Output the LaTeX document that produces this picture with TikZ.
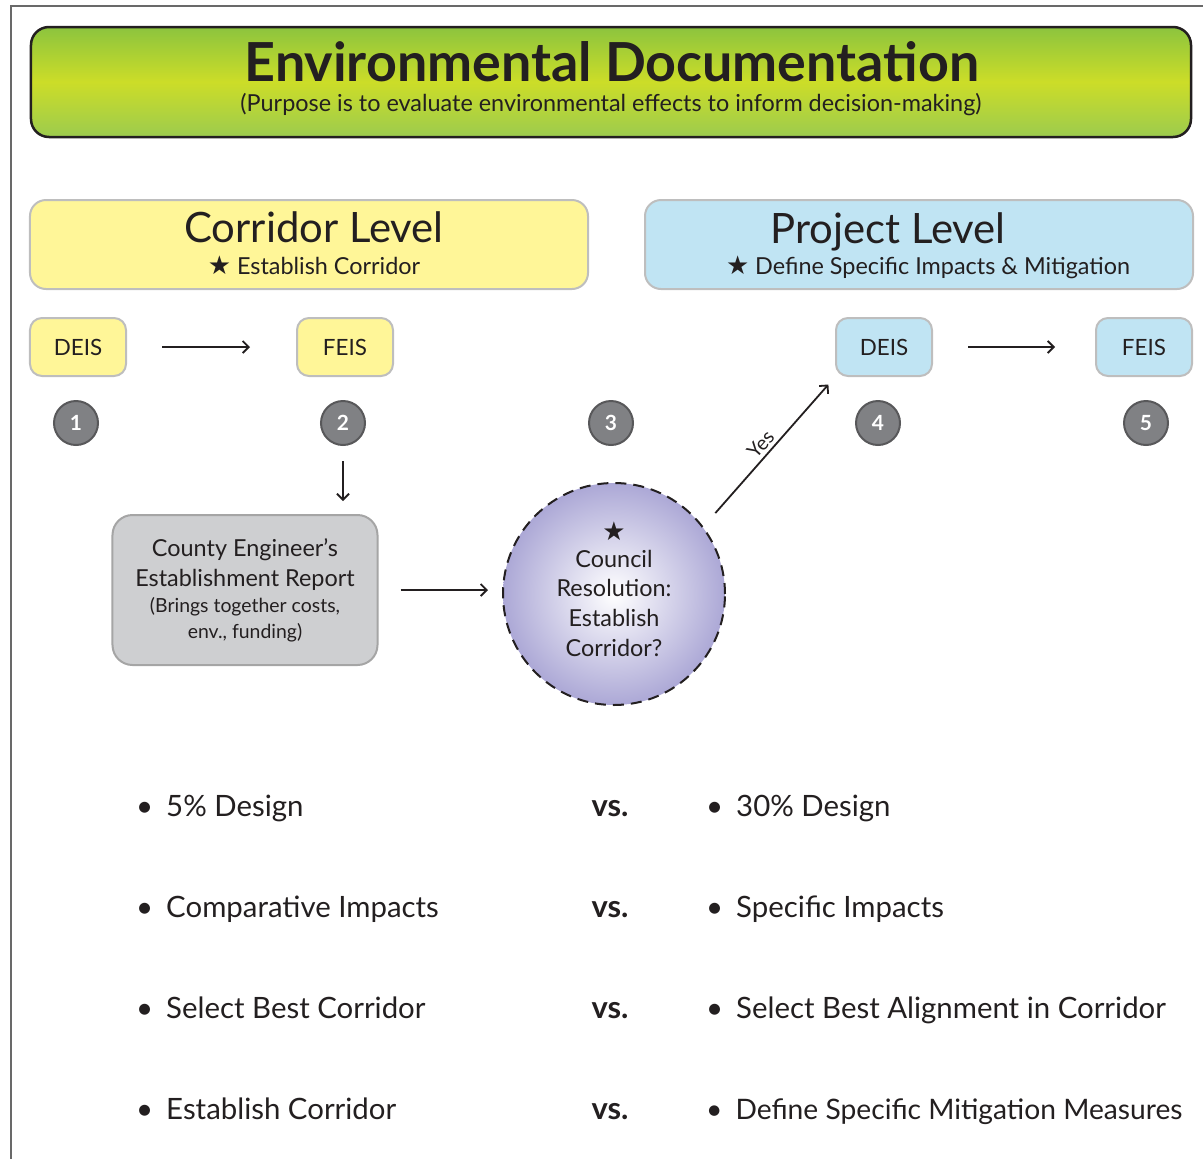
\documentclass[tikz,border=0pt]{standalone}
\usepackage{fontspec}
\setmainfont{Lato}
\newfontfamily\symfont{DejaVu Sans}
\usetikzlibrary{positioning, arrows.meta}
\definecolor{ink}{RGB}{35,31,32}
\definecolor{framegray}{RGB}{105,105,105}
\definecolor{bannertop}{RGB}{140,196,62}
\definecolor{bannermid}{RGB}{204,221,40}
\definecolor{bannerbot}{RGB}{156,203,78}
\definecolor{corryellow}{RGB}{255,246,152}
\definecolor{projblue}{RGB}{192,228,243}
\definecolor{boxgray}{RGB}{190,190,190}
\definecolor{numfill}{RGB}{128,129,132}
\definecolor{numdraw}{RGB}{88,88,90}
\definecolor{reportfill}{RGB}{206,207,209}
\definecolor{reportdraw}{RGB}{165,165,165}
\definecolor{lavender}{RGB}{172,168,214}
\tikzset{
	>={Straight Barb[length=6bp, width=12bp]},
	every node/.style={text=ink},
	frame/.style={draw=framegray, line width=2bp},
	banner/.style={draw=ink, line width=2.5bp, rounded corners=18bp,
		minimum width=1160bp, minimum height=110bp,
		top color=bannertop, bottom color=bannerbot, middle color=bannermid},
	level/.style={draw=boxgray, line width=2bp, rounded corners=16bp,
		minimum width=558bp, minimum height=89bp},
	levelhead/.style={anchor=base, font=\fontsize{42}{46}\selectfont},
	levelsub/.style={anchor=base, font=\fontsize{23.5}{26}\selectfont},
	doc/.style={draw=boxgray, line width=2bp, rounded corners=12bp,
		minimum width=96bp, minimum height=58bp, inner sep=0pt,
		font=\fontsize{22.5}{24}\selectfont},
	num/.style={circle, draw=numdraw, fill=numfill, line width=2bp,
		minimum size=44bp, inner sep=0pt, text=white,
		font=\bfseries\fontsize{21}{22}\selectfont},
	report/.style={draw=reportdraw, fill=reportfill, line width=2bp,
		rounded corners=20bp, minimum width=265bp, minimum height=150bp,
		align=center, font=\fontsize{23.5}{30}\selectfont},
	council/.style={circle, draw=ink, line width=2bp, dash pattern=on 11bp off 7bp,
		inner color=white, outer color=lavender, minimum size=222bp,
		inner sep=0pt, align=center, font=\fontsize{23.5}{30}\selectfont},
	link/.style={->, draw=ink, line width=1.8bp},
	yes/.style={sloped, above, font=\fontsize{20}{22}\selectfont},
	point/.style={anchor=base west, inner sep=0pt, font=\fontsize{29.5}{32}\selectfont},
	vs/.style={anchor=base, font=\bfseries\fontsize{31}{32}\selectfont}
}
\newcommand{\bul}{•\hspace{13bp}}
\newcommand{\keystar}{{\symfont\fontsize{26}{20}\selectfont ★}}

\begin{document}
\begin{tikzpicture}[x=1bp, y=-1bp]
	\useasboundingbox (0,0) rectangle (1203,1159);
	\draw[frame] (11,1159) -- (11,6) -- (1203,6);

	% header
	\node[banner] (banner) at (611,82) {};
	\node[font=\bfseries\fontsize{54}{58}\selectfont] (title) at (612,62) {Environmental Documentation};
	\node[font=\fontsize{23.5}{26}\selectfont] (purpose) at (611,105) {(Purpose is to evaluate environmental effects to inform decision-making)};

	% the two levels
	\node[level, fill=corryellow] (corridor) at (309,244.5) {};
	\node[levelhead] (corrhead) at (314,242) {Corridor Level};
	\node[levelsub] (corrsub) at (314,274) {\keystar\ Establish Corridor};
	\node[level, fill=projblue, minimum width=548bp] (project) at (919,244.5) {};
	\node[levelhead] (projhead) at (888,243) {Project Level};
	\node[levelsub] (projsub) at (928,274) {\keystar\ Define Specific Impacts \& Mitigation};

	\node[doc, fill=corryellow] (cdeis) at (78,347) {DEIS};
	\node[doc, fill=corryellow, right=169bp of cdeis] (cfeis) {FEIS};
	\node[doc, fill=projblue] (pdeis) at (884,347) {DEIS};
	\node[doc, fill=projblue, right=162bp of pdeis] (pfeis) {FEIS};

	\node[num] (n1) at (76,423) {1};
	\node[num] (n2) at (343,423) {2};
	\node[num] (n3) at (611,423) {3};
	\node[num] (n4) at (878,423) {4};
	\node[num] (n5) at (1146,423) {5};

	\node[report] (report) at (245,590) {County Engineer’s\\Establishment Report\\[-4bp]{\fontsize{19.5}{26}\selectfont (Brings together costs,}\\[-4bp]{\fontsize{19.5}{26}\selectfont env., funding)}};
	\node[council] (council) at (614,594) {\keystar\\[-3bp]Council\\Resolution:\\Establish\\Corridor?\\[-20bp]~};

	\draw[link, shorten <=35bp, shorten >=46bp] (cdeis) -- (cfeis);
	\draw[link, shorten <=35bp, shorten >=40bp] (pdeis) -- (pfeis);
	\draw[link, shorten <=15bp, shorten >=13bp] (n2) -- (n2 |- report.north);
	\draw[link, shorten <=22bp, shorten >=14bp] (report.east) -- (report.east -| council.west);
	\draw[link, shorten <=18bp, shorten >=10bp] (council.37) -- node[yes, pos=0.5] {Yes} (pdeis.south west);

	% comparison
	\node[point] (l1) at (136,816) {\bul 5\% Design};
	\node[point] (l2) at (136,917) {\bul Comparative Impacts};
	\node[point] (l3) at (136,1018) {\bul Select Best Corridor};
	\node[point] (l4) at (136,1119) {\bul Establish Corridor};
	\node[vs] (v1) at (610,816) {vs.};
	\node[vs] (v2) at (610,917) {vs.};
	\node[vs] (v3) at (610,1018) {vs.};
	\node[vs] (v4) at (610,1119) {vs.};
	\node[point] (r1) at (706,816) {\bul 30\% Design};
	\node[point] (r2) at (706,917) {\bul Specific Impacts};
	\node[point] (r3) at (706,1018) {\bul Select Best Alignment in Corridor};
	\node[point, font=\fontsize{28.3}{32}\selectfont] (r4) at (706,1119) {\bul Define Specific Mitigation Measures};
\end{tikzpicture}
\end{document}
